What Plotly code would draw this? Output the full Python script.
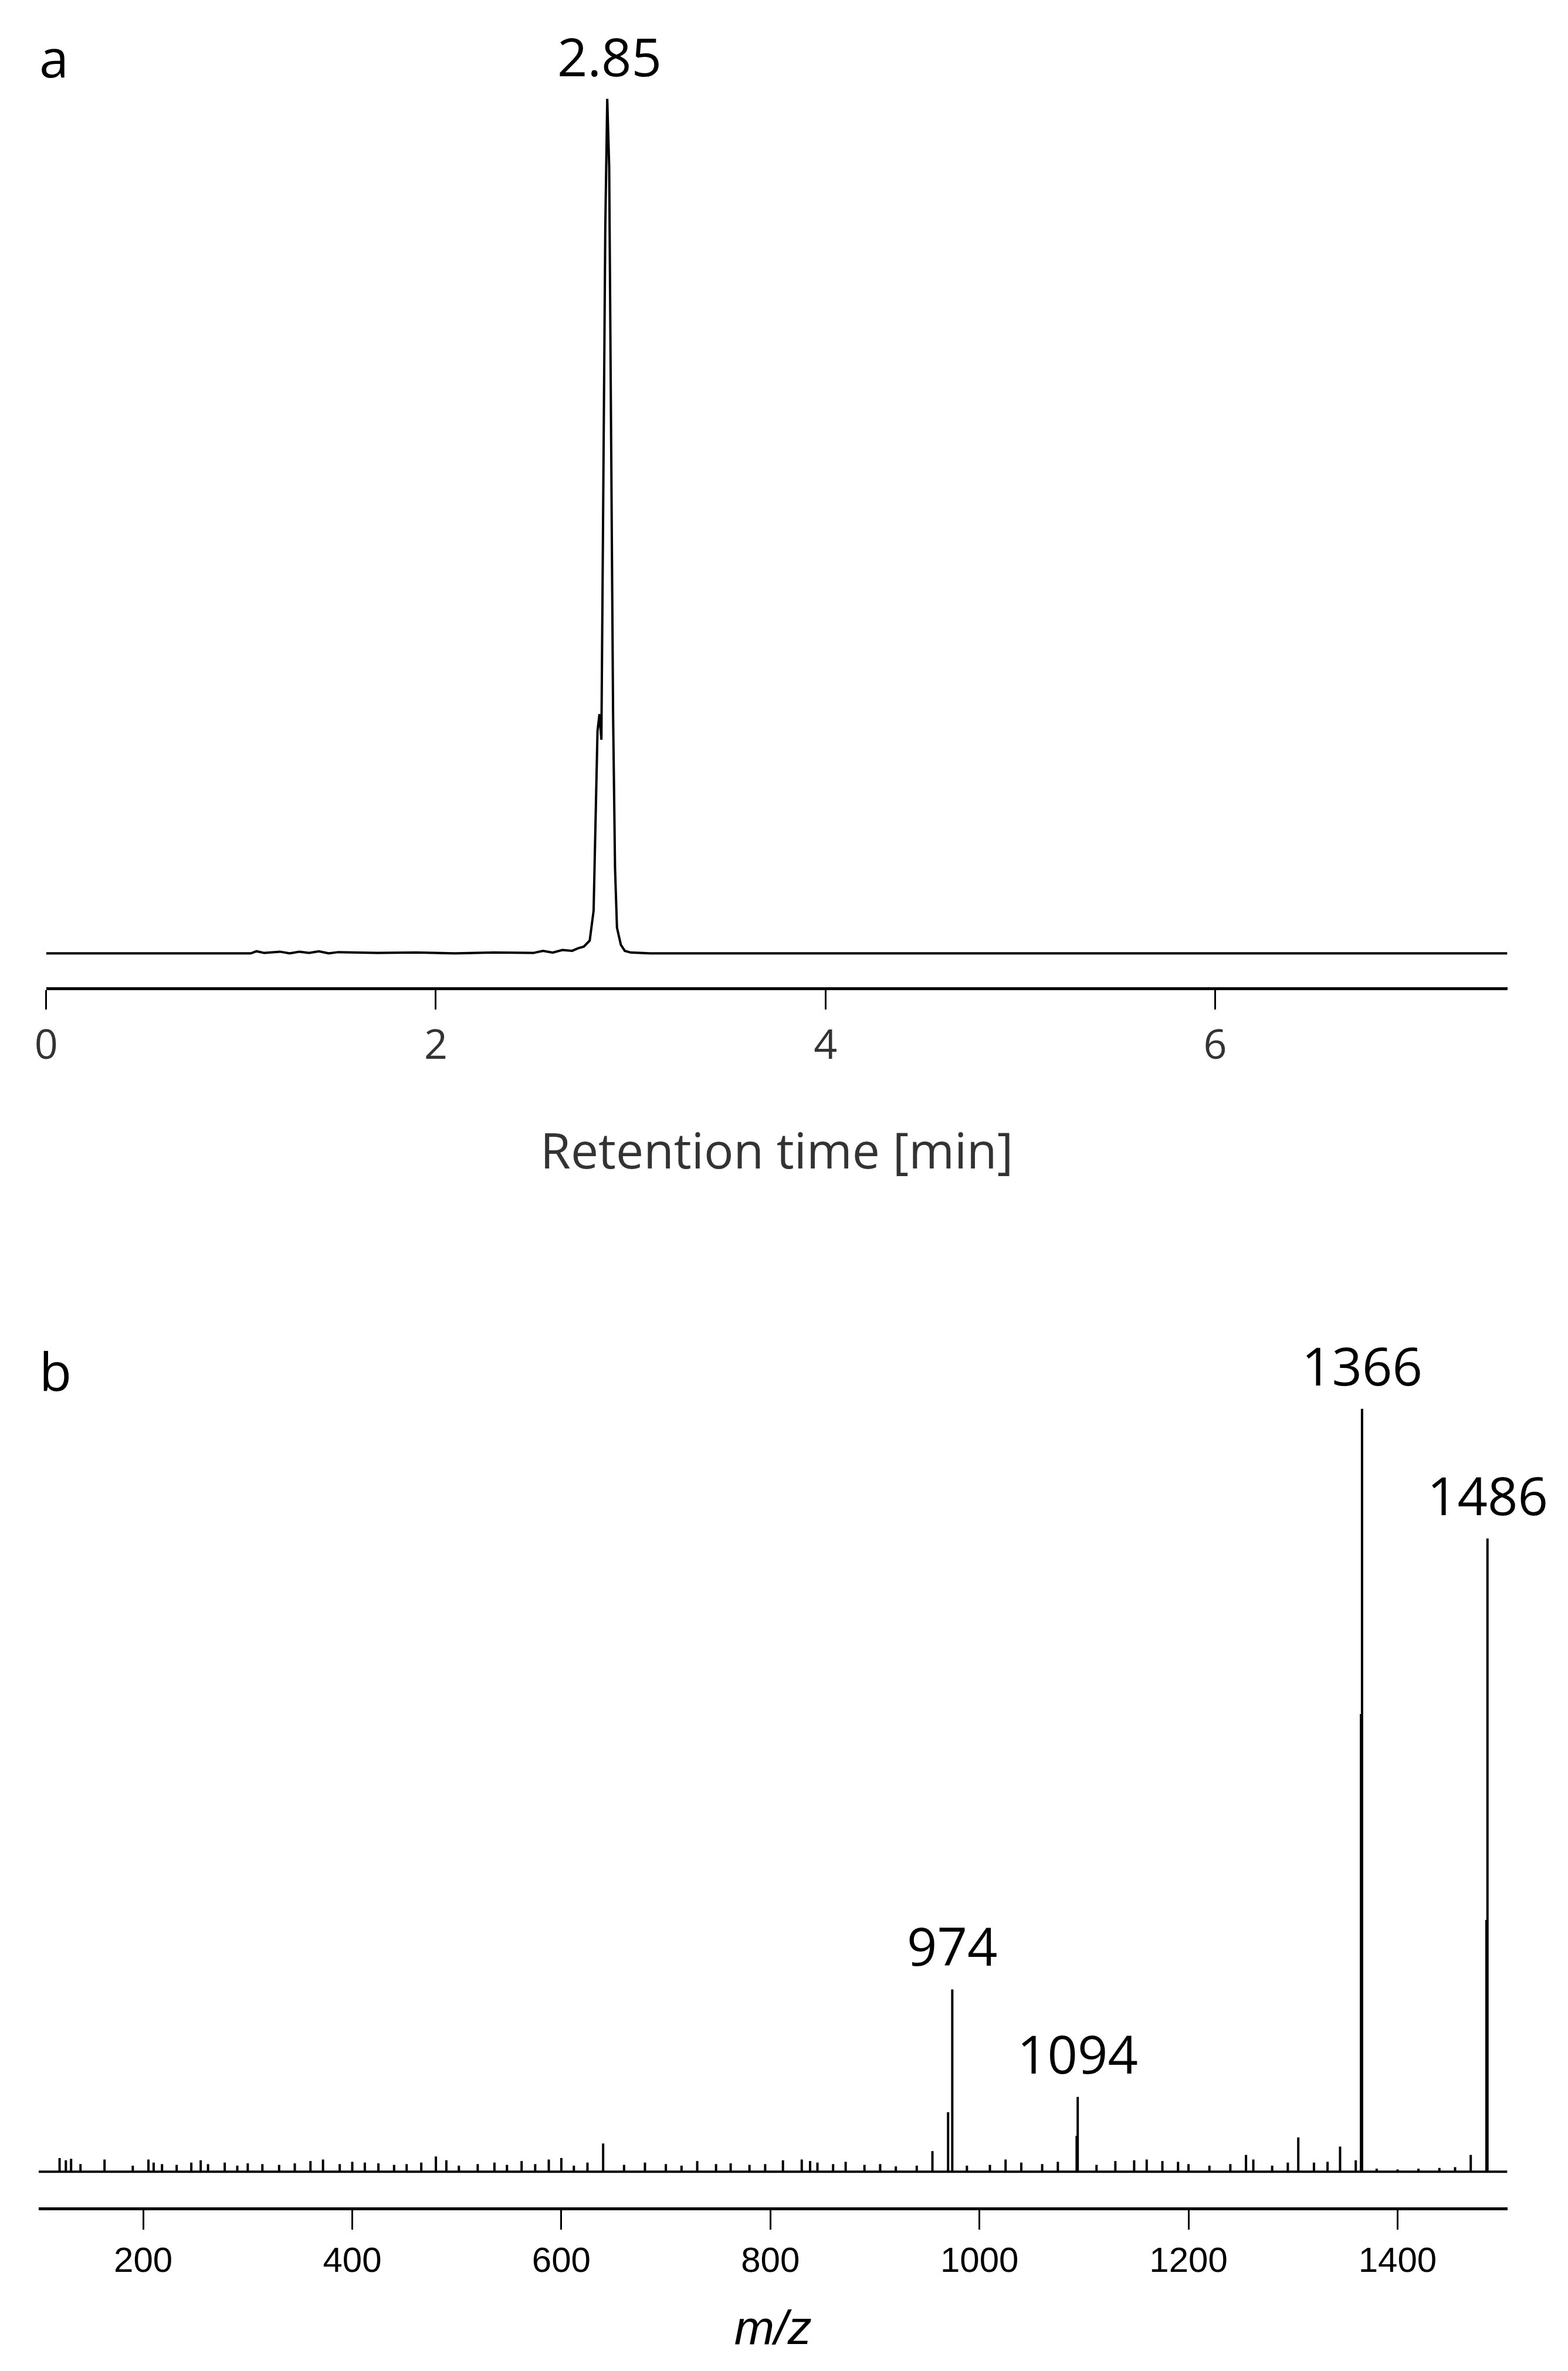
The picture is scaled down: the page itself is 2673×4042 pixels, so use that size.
import plotly.graph_objects as go

# --- panel a: chromatogram ---
rt_min = [0.0, 1.05, 1.08, 1.12, 1.2, 1.25, 1.3, 1.35, 1.4, 1.45, 1.5, 1.7, 1.9, 2.1, 2.3, 2.5,
          2.55, 2.6, 2.65, 2.7, 2.73, 2.76, 2.79, 2.81, 2.83, 2.84, 2.85, 2.86, 2.87, 2.88, 2.89,
          2.9, 2.91, 2.92, 2.93, 2.95, 2.97, 3.0, 3.1, 7.5]
rt_signal = [0.0, 0.0, 0.25, 0.05, 0.2, 0.0, 0.2, 0.05, 0.25, 0.0, 0.15, 0.05, 0.1, 0.0, 0.1, 0.05,
             0.3, 0.1, 0.4, 0.3, 0.6, 0.8, 1.5, 5.0, 26.0, 28.0, 25.0, 55.0, 85.0, 100.0, 92.0,
             60.0, 28.0, 10.0, 3.0, 1.0, 0.3, 0.1, 0.0, 0.0]
rt_ticks = [0, 2, 4, 6]

# --- panel b: mass spectrum (stick peaks, % of base peak) ---
mz = [120, 126, 131, 140, 163, 190, 205, 210, 218, 232, 246, 255, 262, 278, 290, 300, 314, 330,
      345, 360, 372, 388, 400, 412, 425, 440, 452, 466, 480, 490, 502, 520, 536, 548, 562, 575,
      588, 600, 612, 625, 640, 660, 680, 700, 715, 730, 748, 762, 780, 795, 812, 830, 838, 845,
      860, 872, 890, 905, 920, 940, 955, 970, 974, 988, 1010, 1025, 1040, 1060, 1075, 1093, 1094,
      1112, 1130, 1148, 1160, 1175, 1190, 1200, 1220, 1240, 1255, 1262, 1280, 1295, 1305, 1320,
      1333, 1345, 1360, 1365, 1366, 1380, 1400, 1420, 1440, 1455, 1470, 1485, 1486]
intensity = [1.8, 1.5, 1.7, 1.0, 1.6, 0.8, 1.6, 1.2, 1.0, 0.9, 1.2, 1.5, 1.0, 1.2, 0.8, 1.1, 1.0, 0.9,
             1.1, 1.4, 1.6, 1.0, 1.3, 1.2, 1.1, 0.9, 1.0, 1.2, 2.0, 1.5, 0.8, 1.0, 1.2, 0.9, 1.4, 1.0,
             1.6, 1.8, 0.8, 1.2, 3.7, 0.9, 1.2, 1.0, 0.8, 1.4, 1.0, 1.1, 0.9, 1.0, 1.5, 1.6, 1.4, 1.2,
             1.0, 1.3, 0.9, 1.0, 0.7, 0.8, 2.7, 7.8, 23.9, 0.8, 0.9, 1.6, 1.2, 1.0, 1.3, 4.7, 9.8,
             0.9, 1.4, 1.5, 1.6, 1.4, 1.3, 1.0, 0.8, 1.0, 2.2, 1.6, 0.8, 1.2, 4.5, 1.2, 1.3, 3.3, 1.5,
             60.0, 100.0, 0.4, 0.3, 0.4, 0.5, 0.6, 2.2, 33.0, 83.0]
mz_ticks = [200, 400, 600, 800, 1000, 1200, 1400]

# build stick coordinates
stick_x, stick_y = [], []
for m, v in zip(mz, intensity):
    stick_x += [m, m, None]
    stick_y += [0, v, None]

black = "black"
fig = go.Figure()
fig.add_trace(go.Scatter(x=rt_min, y=rt_signal, mode="lines",
                         line=dict(color=black, width=4), xaxis="x", yaxis="y"))
fig.add_trace(go.Scatter(x=[100, 1505], y=[0, 0], mode="lines",
                         line=dict(color=black, width=4), xaxis="x2", yaxis="y2"))
fig.add_trace(go.Scatter(x=stick_x, y=stick_y, mode="lines",
                         line=dict(color=black, width=4), xaxis="x2", yaxis="y2"))

axis_common = dict(showline=True, linecolor=black, linewidth=5, ticks="outside",
                   ticklen=33, tickwidth=3, tickcolor=black, showgrid=False, zeroline=False)

fig.update_layout(
    width=2673, height=4042,
    paper_bgcolor="white", plot_bgcolor="white",
    showlegend=False,
    margin=dict(l=0, r=0, t=0, b=0),
    xaxis=dict(domain=[0.0191, 0.958], range=[0, 7.5], tickvals=rt_ticks, anchor="y",
               tickfont=dict(family="Open Sans", size=70, color="#333"),
               title=dict(text="Retention time [min]", standoff=110,
                          font=dict(family="Open Sans", size=84, color="#333")),
               **axis_common),
    yaxis=dict(domain=[0.5856, 0.9621], range=[-3.96, 100.5], visible=False),
    xaxis2=dict(domain=[0.0143, 0.958], range=[100, 1505], tickvals=mz_ticks, anchor="y2",
                tickfont=dict(family="Liberation Sans", size=60, color=black),
                title=dict(text="<i>m/z</i>", standoff=55,
                           font=dict(family="Liberation Sans", size=82, color=black)),
                **axis_common),
    yaxis2=dict(domain=[0.0710, 0.4094], range=[-4.67, 100.5], visible=False),
)

ann_font = dict(family="Open Sans", size=90, color=black)
fig.add_annotation(x=0.014, y=0.978, xref="paper", yref="paper", text="a",
                   showarrow=False, font=ann_font, xanchor="left", yanchor="middle")
fig.add_annotation(x=0.014, y=0.424, xref="paper", yref="paper", text="b",
                   showarrow=False, font=ann_font, xanchor="left", yanchor="middle")
fig.add_annotation(x=2.89, y=100, xref="x", yref="y", text="2.85", showarrow=False,
                   font=ann_font, yanchor="bottom", yshift=10)
for m, v, lab in [(974, 23.9, "974"), (1094, 9.8, "1094"), (1366, 100, "1366"), (1486, 83, "1486")]:
    fig.add_annotation(x=m, y=v, xref="x2", yref="y2", text=lab, showarrow=False,
                       font=ann_font, yanchor="bottom", yshift=12)

fig.write_html("out.html")
